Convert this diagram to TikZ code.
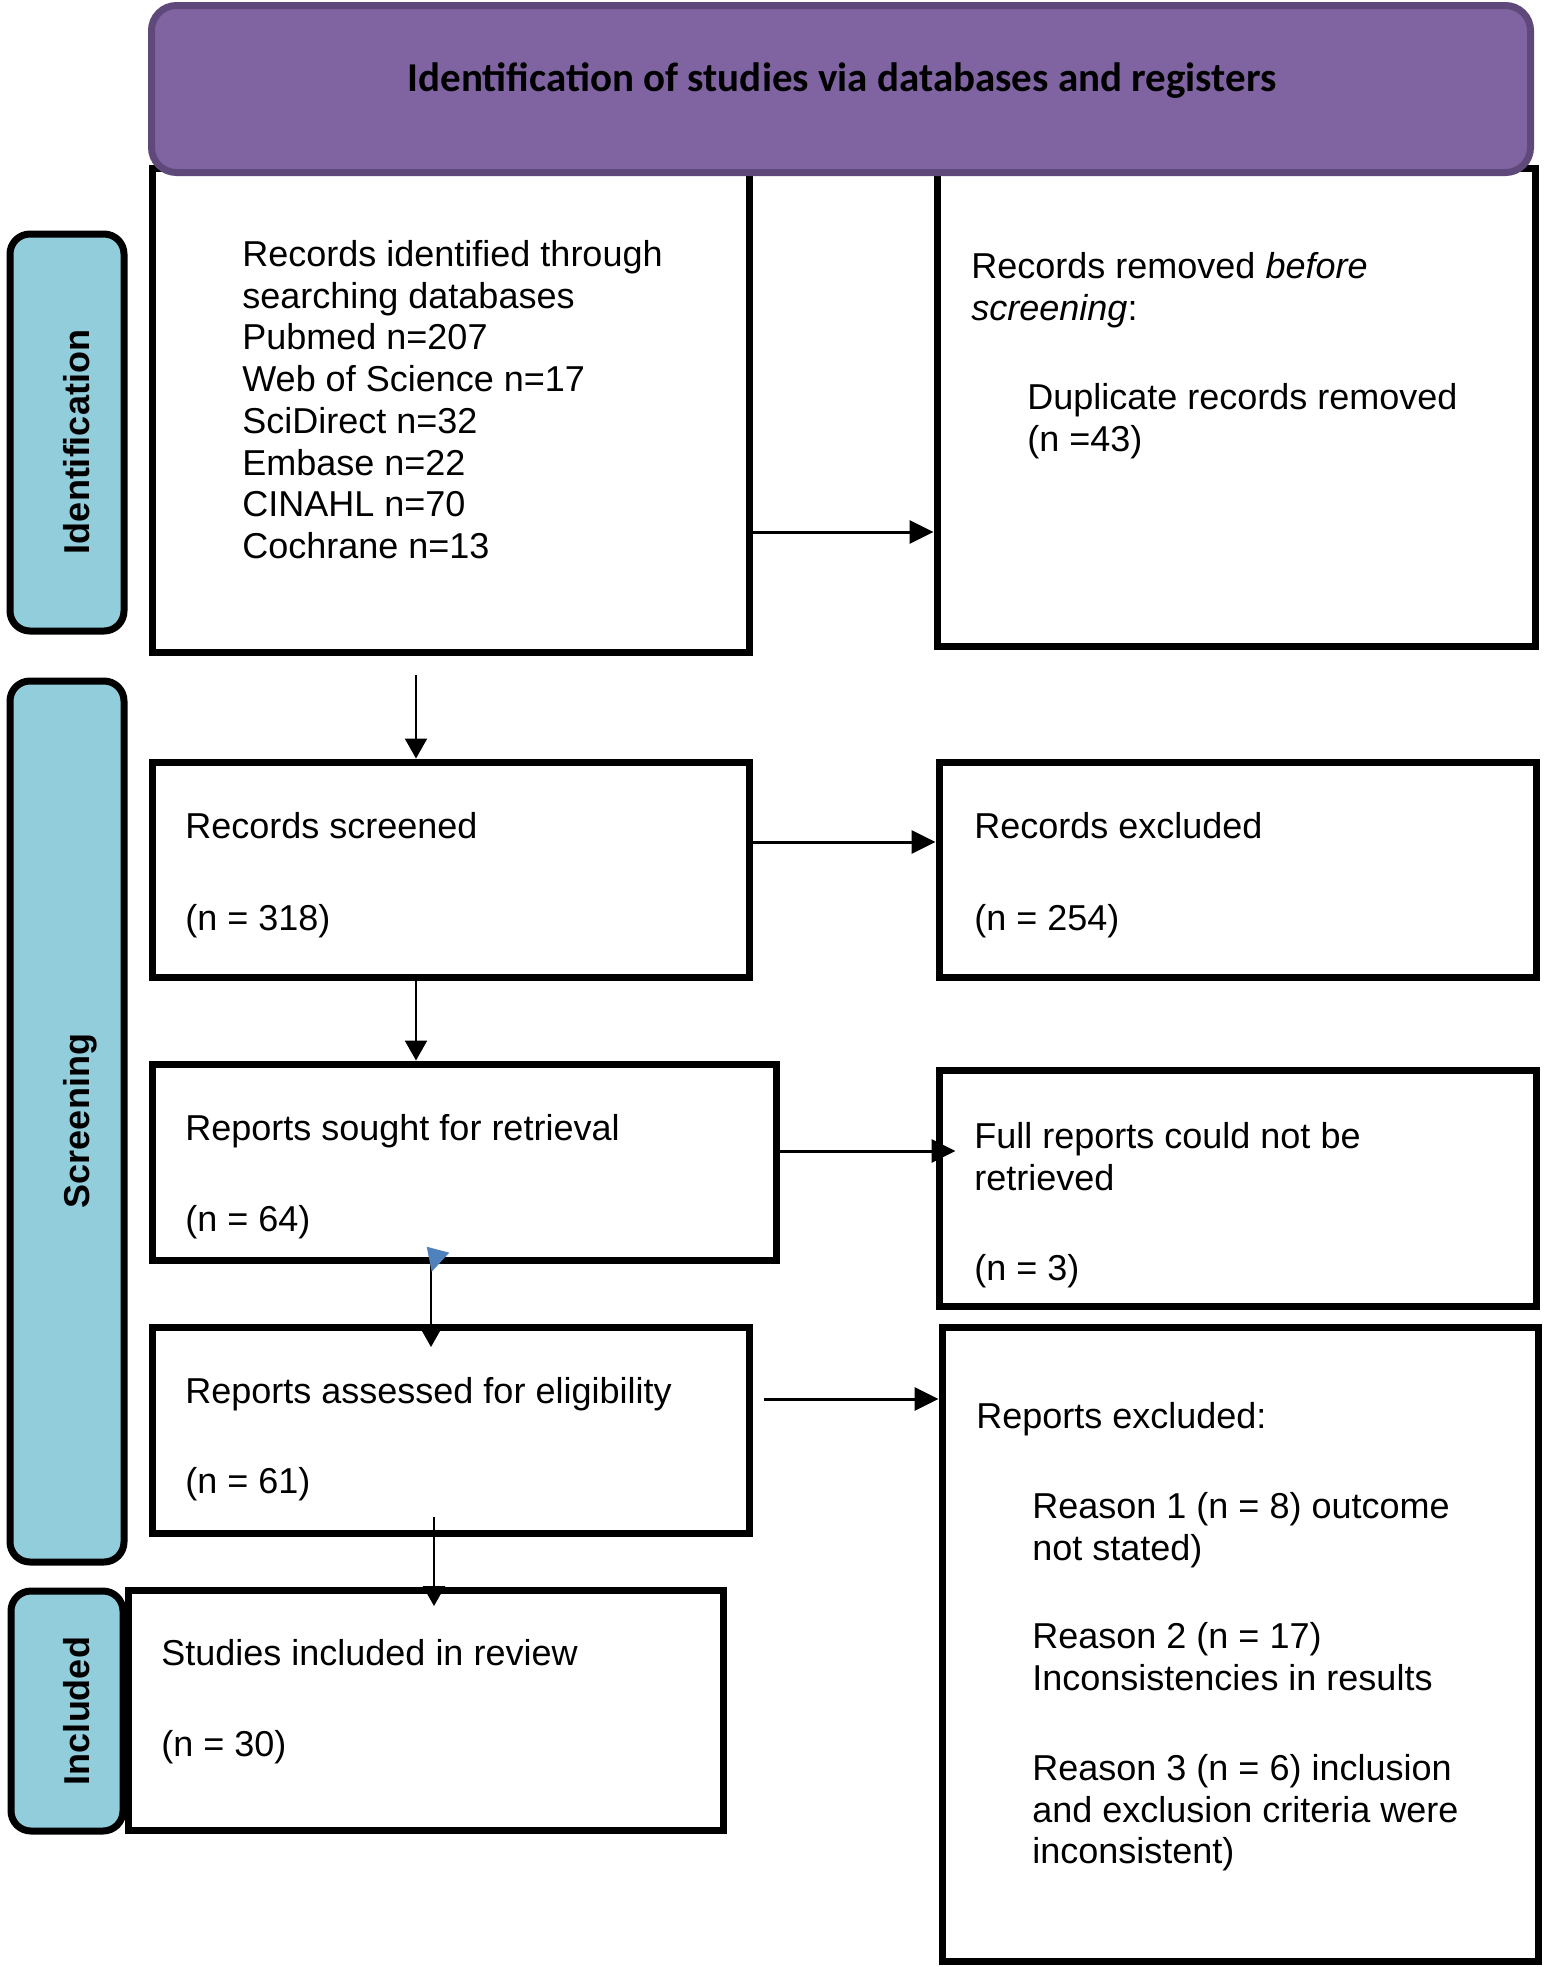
\documentclass[tikz,border=0pt]{standalone}
\usepackage{fontspec}
\setmainfont{Liberation Sans}
\newfontfamily\hdrfont{Carlito}
\usetikzlibrary{arrows.meta,calc}
\definecolor{hdrfill}{HTML}{8064A2}
\definecolor{hdrline}{HTML}{5F497A}
\definecolor{labfill}{HTML}{92CDDC}
\definecolor{tipblue}{HTML}{4F81BD}
\begin{document}
\begin{tikzpicture}[x=0.5pt,y=-0.5pt,
 box/.style={draw=black, line width=3.5pt, fill=white, anchor=north west, inner sep=0pt},
 hdr/.style={draw=hdrline, fill=hdrfill, line width=3.5pt, rounded corners=12.5pt, anchor=north west, inner sep=0pt},
 phase/.style={draw=black, fill=labfill, line width=3.5pt, rounded corners=10pt, anchor=north west, inner sep=0pt},
 phasetxt/.style={rotate=90, anchor=base, font=\bfseries\fontsize{18}{20}\selectfont, inner sep=0pt},
 txt/.style={anchor=north west, align=left, inner sep=0pt, font=\fontsize{18}{20.85}\selectfont},
 harr/.style={line width=1.5pt, -{Triangle[length=12pt,width=11.5pt]}},
 varr/.style={line width=1.2pt, -{Triangle[length=10pt,width=11pt]}},
]
\useasboundingbox (0,0) rectangle (1546,1967);

% boxes under the header
\node[box, minimum width=298.5pt, minimum height=242pt] (recs) at (148.5,164.5) {};
\node[box, minimum width=299pt, minimum height=239pt] (removed) at (933.5,164.5) {};
% header
\node[hdr, minimum width=689.5pt, minimum height=83.5pt] (hdr) at (148,2) {};
\node[font=\hdrfont\bfseries\fontsize{20.5}{24}\selectfont, anchor=base, inner sep=0pt] (hdrtxt) at (842,91) {Identification of studies via databases and registers};

% other boxes
\node[box, minimum width=298.5pt, minimum height=107.5pt] (screened) at (148.5,758.5) {};
\node[box, minimum width=298.5pt, minimum height=107.5pt] (excluded) at (935.5,758.5) {};
\node[box, minimum width=312pt, minimum height=98pt] (sought) at (148.5,1060.5) {};
\node[box, minimum width=298.5pt, minimum height=118pt] (notret) at (935.5,1066.5) {};
\node[box, minimum width=298.5pt, minimum height=103pt] (assessed) at (148.5,1323.5) {};
\node[box, minimum width=297.5pt, minimum height=120pt] (included) at (124.5,1586.5) {};
\node[box, minimum width=298pt, minimum height=317pt] (repexcl) at (938.5,1323.5) {};

% phase labels
\node[phase, minimum width=57pt, minimum height=198.5pt] (phid) at (6.5,230.5) {};
\node[phase, minimum width=57pt, minimum height=440.5pt] (phscr) at (6.5,677.5) {};
\node[phase, minimum width=56pt, minimum height=120pt] (phinc) at (7.5,1587.5) {};
\node[phasetxt] (phidt) at (89,442) {Identification};
\node[phasetxt] (phscrt) at (89,1121) {Screening};
\node[phasetxt] (phinct) at (89,1711) {Included};

% texts
\node[txt] (recst) at (242,240) {Records identified through\\searching databases\\Pubmed n=207\\Web of Science n=17\\SciDirect n=32\\Embase n=22\\CINAHL n=70\\Cochrane n=13};
\node[txt] (removedt1) at (971,252) {Records removed \textit{before}\\\textit{screening}:};
\node[txt] (removedt2) at (1027,383) {Duplicate records removed\\(n =43)};
\node[txt] (screenedt) at (185,812) {Records screened\\[25.15pt](n = 318)};
\node[txt] (excludedt) at (974,812) {Records excluded\\[25.15pt](n = 254)};
\node[txt] (soughtt) at (185,1114) {Reports sought for retrieval\\[24.65pt](n = 64)};
\node[txt] (notrett) at (974,1122) {Full reports could not be\\retrieved\\[24.15pt](n = 3)};
\node[txt] (assessedt) at (185,1377) {Reports assessed for eligibility\\[24.15pt](n = 61)};
\node[txt] (includedt) at (161,1639) {Studies included in review\\[24.65pt](n = 30)};
\node[txt] (repexclt1) at (976,1402) {Reports excluded:};
\node[txt] (repexclt2) at (1032,1492) {Reason 1 (n = 8) outcome\\not stated)};
\node[txt] (repexclt3) at (1032,1622) {Reason 2 (n = 17)\\Inconsistencies in results};
\node[txt] (repexclt4) at (1032,1754) {Reason 3 (n = 6) inclusion\\and exclusion criteria were\\inconsistent)};

% connectors
\coordinate (yab) at (0,532);
\coordinate (ycd) at (0,842);
\coordinate (yef) at (0,1151);
\coordinate (gi) at (764,1399);
\coordinate (ac) at (416,675);
\coordinate (xce) at (416,0);
\coordinate (xeg) at (431,0);
\coordinate (xgh) at (434,0);
\draw[harr] (recs.east |- yab) -- (removed.west |- yab);
\draw[harr] (screened.east |- ycd) -- (excluded.west |- ycd);
\draw[harr, shorten >=-10pt] (sought.east |- yef) -- (notret.west |- yef);
\draw[harr] (gi) -- (repexcl.west |- gi);
\draw[varr] (ac) -- (ac |- screened.north);
\draw[varr] (screened.south -| xce) -- (sought.north -| xce);
\draw[varr] (sought.south -| xeg) -- ($(assessed.north -| xeg)+(0,23.5)$);
\draw[varr] ($(assessed.south -| xgh)+(0,-19.5)$) -- ($(included.north -| xgh)+(0,19.5)$);
\fill[tipblue] (426.7,1246.7) -- (449.3,1252.7) -- (431.7,1271.7) -- cycle;
\end{tikzpicture}
\end{document}
